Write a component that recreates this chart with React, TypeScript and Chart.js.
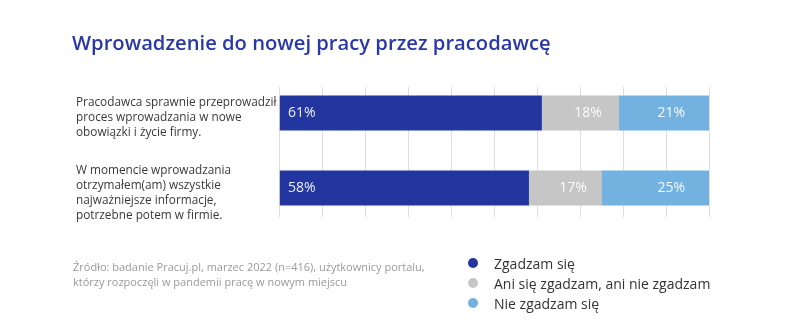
import React, { useEffect, useRef } from "react";
import { Chart, registerables } from "chart.js";

Chart.register(...registerables);

const titleText = "Wprowadzenie do nowej pracy przez pracodawcę";
const categories: string[][] = [
  ["Pracodawca sprawnie przeprowadził", "proces wprowadzania w nowe", "obowiązki i życie firmy."],
  ["W momencie wprowadzania", "otrzymałem(am) wszystkie", "najważniejsze informacje,", "potrzebne potem w firmie."],
];
const seriesNames = ["Zgadzam się", "Ani się zgadzam, ani nie zgadzam", "Nie zgadzam się"];
const agree = [61, 58];
const neutral = [18, 17];
const disagree = [21, 25];
const seriesColors = ["#23359f", "#c6c6c6", "#73b1e0"];
const sourceLines = [
  "Źródło: badanie Pracuj.pl, marzec 2022 (n=416), użytkownicy portalu,",
  "którzy rozpoczęli w pandemii pracę w nowym miejscu",
];

const FONT = "'Open Sans', 'Noto Sans', sans-serif";

const labelPlugin = {
  id: "barLabels",
  afterDatasetsDraw(chart: any) {
    const ctx = chart.ctx;
    ctx.save();
    ctx.font = `14px ${FONT}`;
    ctx.fillStyle = "rgba(255,255,255,0.92)";
    ctx.textBaseline = "middle";
    chart.data.datasets.forEach((ds: any, di: number) => {
      const meta = chart.getDatasetMeta(di);
      meta.data.forEach((el: any, i: number) => {
        const v = ds.data[i].x;
        const txt = `${v}%`;
        const left = Math.min(el.x, el.base);
        const right = Math.max(el.x, el.base);
        if (di === 0) {
          ctx.textAlign = "left";
          ctx.fillText(txt, left + 8, el.y);
        } else if (di === 1) {
          ctx.textAlign = "center";
          ctx.fillText(txt, (left + right) / 2 + 8, el.y);
        } else {
          ctx.textAlign = "right";
          ctx.fillText(txt, right - 24, el.y);
        }
      });
    });
    ctx.restore();
  },
};

export default function App() {
  const ref = useRef<HTMLCanvasElement | null>(null);

  useEffect(() => {
    if (!ref.current) return;
    const series = [agree, neutral, disagree];
    const chart = new Chart(ref.current, {
      type: "bar",
      data: {
        datasets: series.map((vals, si) => ({
          label: seriesNames[si],
          data: vals.map((v, i) => ({ x: v, y: i })),
          backgroundColor: seriesColors[si],
          borderWidth: 0,
          barThickness: 34.5,
        })),
      },
      options: {
        indexAxis: "y",
        animation: false,
        responsive: false,
        layout: { padding: { left: 76, right: 91, top: 87, bottom: 118 } },
        plugins: {
          legend: { display: false },
          tooltip: { enabled: false },
          title: { display: false },
        },
        scales: {
          x: {
            type: "linear",
            stacked: true,
            min: 0,
            max: 100,
            ticks: { display: false, stepSize: 10 },
            grid: { color: "#dedede", lineWidth: 1, drawTicks: false },
            border: { display: false },
          },
          y: {
            type: "linear",
            stacked: true,
            reverse: true,
            offset: false,
            min: -0.347,
            max: 1.386,
            grid: { display: false, drawTicks: false, offset: false },
            border: { display: false },
            afterBuildTicks: (scale: any) => {
              scale.ticks = categories.map((_, i) => ({ value: i }));
            },
            afterFit: (scale: any) => {
              scale.width = 203.5;
            },
            ticks: {
              crossAlign: "far",
              labelOffset: 5,
              color: "#3a3a3a",
              font: { family: FONT, size: 11.8, lineHeight: "15px" },
              callback: (value: any) => categories[Math.round(Number(value))] ?? "",
            },
          },
        },
      },
      plugins: [labelPlugin],
    } as any);
    return () => chart.destroy();
  }, []);

  return (
    <div
      style={{
        position: "absolute",
        left: 0,
        top: 0,
        width: 800,
        height: 335,
        background: "#ffffff",
        fontFamily: FONT,
        overflow: "hidden",
      }}
    >
      <canvas ref={ref} width={800} height={335} style={{ position: "absolute", left: 0, top: 0, width: 800, height: 335 }} />
      <div
        style={{
          position: "absolute",
          left: 72,
          top: 28,
          fontSize: 20.2,
          fontWeight: 600,
          lineHeight: "28px",
          color: "#2838a8",
          whiteSpace: "nowrap",
        }}
      >
        {titleText}
      </div>
      <div
        style={{
          position: "absolute",
          left: 73,
          top: 259,
          fontSize: 11,
          lineHeight: "15px",
          color: "#9a9a9a",
          whiteSpace: "nowrap",
        }}
      >
        {sourceLines.map((l, i) => (
          <div key={i}>{l}</div>
        ))}
      </div>
      <div style={{ position: "absolute", left: 468, top: 253 }}>
        {seriesNames.map((n, i) => (
          <div key={i} style={{ display: "flex", alignItems: "center", height: 20 }}>
            <span
              style={{
                display: "inline-block",
                width: 10,
                height: 10,
                borderRadius: "50%",
                background: seriesColors[i],
                marginRight: 16,
              }}
            />
            <span style={{ fontSize: 14, color: "#333333", whiteSpace: "nowrap" }}>{n}</span>
          </div>
        ))}
      </div>
    </div>
  );
}
